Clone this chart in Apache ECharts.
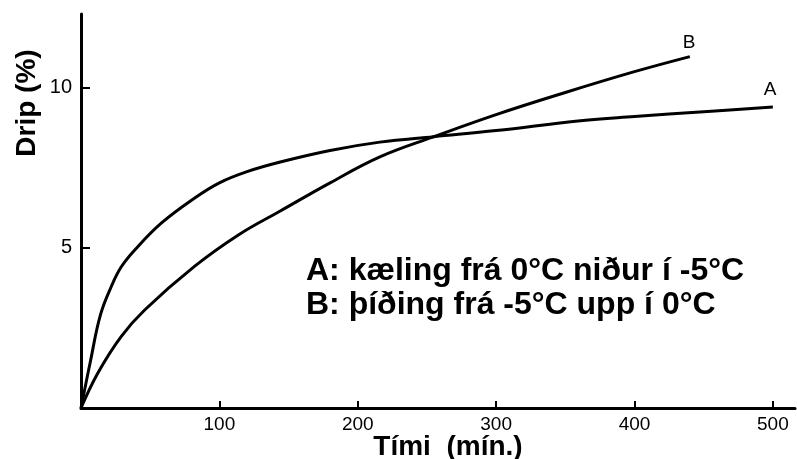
<!DOCTYPE html>
<html>
<head>
<meta charset="utf-8">
<script src="https://cdn.jsdelivr.net/npm/echarts@6/dist/echarts.min.js"></script>
<style>
  html, body { margin: 0; padding: 0; background: #fff; }
  #chart { width: 797px; height: 459px; }
</style>
</head>
<body>
<div id="chart"></div>
<script>
// Tími (mín.) og drip (%) lesið af myndinni
const timeA = [0, 7, 14, 22, 29, 39, 58, 82, 100, 120, 144, 180, 216, 255, 300, 361, 400, 450, 500];
const dripA = [0, 1.5, 2.9, 3.8, 4.4, 4.94, 5.77, 6.55, 7.03, 7.38, 7.68, 8.04, 8.3, 8.47, 8.66, 8.97, 9.1, 9.25, 9.4];
const timeB = [0, 12, 29, 46, 82, 114, 144, 180, 216, 255, 300, 350, 400, 440];
const dripB = [0, 1.08, 2.23, 3.06, 4.42, 5.41, 6.15, 7.03, 7.84, 8.47, 9.16, 9.85, 10.5, 10.97];
const xTicks = [100, 200, 300, 400, 500];
const yTicks = [5, 10];
const legendLines = ["A: kæling frá 0°C niður í -5°C", "B: þíðing frá -5°C upp í 0°C"];

const chart = echarts.init(document.getElementById("chart"));
const sans = "'Liberation Sans', Arial, sans-serif";

const pairs = (xs, ys) => xs.map((x, i) => [x, ys[i]]);

const option = {
    animation: false,
    grid: { left: 81, right: 2, top: 14, bottom: 51, outerBoundsMode: "none" },
    xAxis: {
        type: "value",
        min: 0,
        max: 516,
        name: "Tími  (mín.)",
        nameLocation: "middle",
        nameGap: 25,
        nameMoveOverlap: false,
        nameTextStyle: {
            fontFamily: sans, fontSize: 28, fontWeight: "bold", color: "#000",
            padding: [0, 0, 0, 20],
        },
        axisLine: { onZero: false, lineStyle: { color: "#000", width: 3 } },
        axisTick: { show: true, inside: true, length: 7, lineStyle: { width: 2, color: "#000" }, customValues: xTicks },
        axisLabel: { customValues: xTicks, margin: 7, fontFamily: sans, fontSize: 19, color: "#000" },
        splitLine: { show: false },
    },
    yAxis: {
        type: "value",
        min: 0,
        max: 12.3,
        axisLine: { onZero: false, lineStyle: { color: "#000", width: 3 } },
        axisTick: { show: true, inside: true, length: 9, lineStyle: { width: 2, color: "#000" }, customValues: yTicks },
        axisLabel: { customValues: yTicks, margin: 9, fontFamily: sans, fontSize: 20, color: "#000" },
        splitLine: { show: false },
    },
    series: [
        {
            name: "A",
            type: "line",
            data: pairs(timeA, dripA),
            smooth: 0.4,
            showSymbol: false,
            lineStyle: { color: "#000", width: 3 },
            endLabel: { show: true, formatter: "A", offset: [-17, -17], fontFamily: sans, fontSize: 19, color: "#000" },
        },
        {
            name: "B",
            type: "line",
            data: pairs(timeB, dripB),
            smooth: 0.4,
            showSymbol: false,
            lineStyle: { color: "#000", width: 3 },
            endLabel: { show: true, formatter: "B", offset: [-15, -14], fontFamily: sans, fontSize: 19, color: "#000" },
        },
    ],
    graphic: [
        {
            type: "text", x: 27, y: 103, rotation: Math.PI / 2,
            style: { text: "Drip (%)", font: "bold 28px " + sans, fill: "#000", align: "center", verticalAlign: "middle" },
        },
        {
            type: "text", x: 306, y: 271,
            style: { text: legendLines[0], font: "bold 32px " + sans, fill: "#000", align: "left", verticalAlign: "middle" },
        },
        {
            type: "text", x: 306, y: 305,
            style: { text: legendLines[1], font: "bold 32px " + sans, fill: "#000", align: "left", verticalAlign: "middle" },
        },
    ],
};

chart.setOption(option);
</script>
</body>
</html>
